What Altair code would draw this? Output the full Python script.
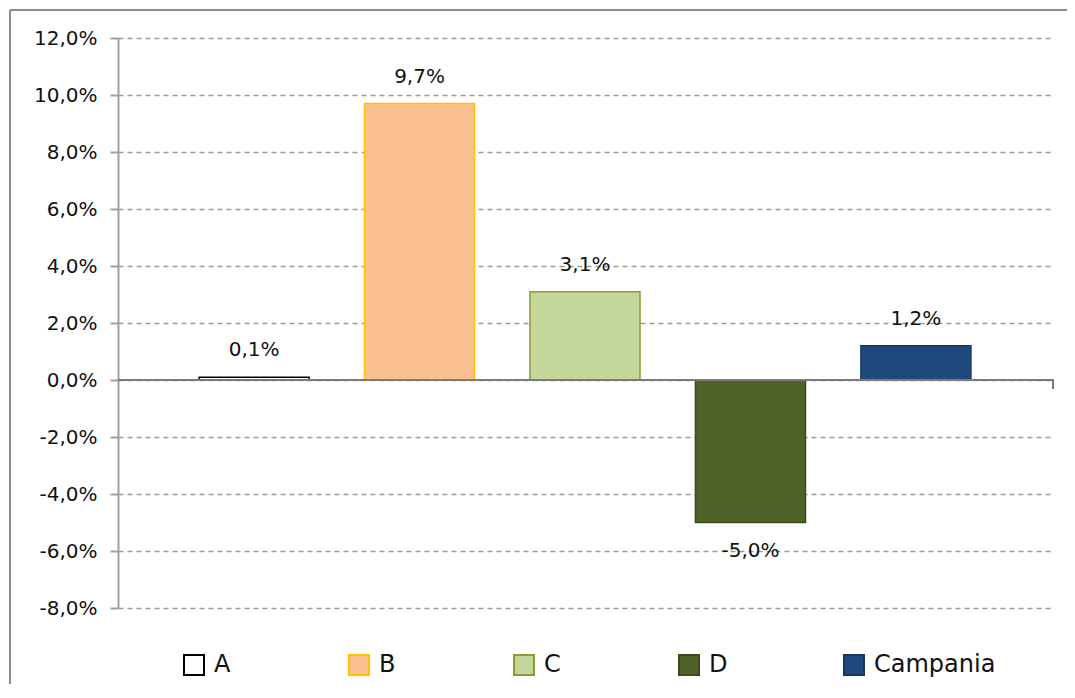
import altair as alt
import pandas as pd

categories = ["A", "B", "C", "D", "Campania"]
values = [0.1, 9.7, 3.1, -5.0, 1.2]
fills = ["#FFFFFF", "#FAC090", "#C4D79B", "#4F6228", "#1F497D"]
strokes = ["#000000", "#FFC000", "#8C9A2E", "#3A4A1A", "#17375E"]
y_ticks = [-8, -6, -4, -2, 0, 2, 4, 6, 8, 10, 12]

df = pd.DataFrame({"cat": categories, "v": values})

FONT = "DejaVu Sans"
W, H = 934, 570

fmt = "replace(replace(format(datum.value, '.1f'), '.', ','), '\u2212', '-') + '%'"
lblfmt = "replace(replace(format(datum.v, '.1f'), '.', ','), '\u2212', '-') + '%'"

x_enc = alt.X(
    "cat:N",
    sort=categories,
    scale=alt.Scale(domain=categories, paddingInner=0.335, paddingOuter=0.49),
    axis=None,
)
y_scale = alt.Scale(domain=[-8, 12], nice=False, zero=False)

legend_kw = dict(
    title=None,
    orient="none",
    legendX=64,
    legendY=615,
    direction="horizontal",
    columns=5,
    gridAlign="all",
    columnPadding=9,
    symbolType="square",
    symbolSize=400,
    symbolStrokeWidth=2,
    labelFont=FONT,
    labelFontSize=24,
    labelColor="#111111",
    labelOffset=8,
    padding=0,
    labelLimit=300,
)

base = alt.Chart(df)

bars = base.mark_bar(strokeWidth=1.5).encode(
    x=x_enc,
    y=alt.Y(
        "v:Q",
        scale=y_scale,
        axis=alt.Axis(
            values=y_ticks,
            title=None,
            labelExpr=fmt,
            labelFont=FONT,
            labelFontSize=20,
            labelColor="#111111",
            labelPadding=13,
            tickSize=8,
            tickColor="#A0A0A0",
            tickWidth=2,
            domainColor="#A0A0A0",
            domainWidth=2,
            grid=True,
            gridColor="#9A9A9A",
            gridDash=[5, 4],
            gridWidth=1.5,
        ),
    ),
    y2=alt.datum(0),
    fill=alt.Fill(
        "cat:N",
        scale=alt.Scale(domain=categories, range=fills),
        legend=alt.Legend(**legend_kw),
    ),
    stroke=alt.Stroke(
        "cat:N",
        scale=alt.Scale(domain=categories, range=strokes),
        legend=alt.Legend(**legend_kw),
    ),
)

labels = base.mark_text(
    font=FONT,
    fontSize=20,
    color="#111111",
    baseline="middle",
    dy=alt.expr("datum.v < 0 ? 28 : -27"),
).encode(
    x=x_enc,
    y=alt.Y("v:Q", scale=y_scale),
    text=alt.Text("lbl:N"),
).transform_calculate(lbl=lblfmt)

one = alt.Data(values=[{}])
zero_line = alt.Chart(one).mark_rule(color="#7A7A7A", strokeWidth=2).encode(
    x=alt.value(0), x2=alt.value(W + 2), y=alt.datum(0, scale=y_scale)
)
end_tick = alt.Chart(one).mark_rule(color="#7A7A7A", strokeWidth=2).encode(
    x=alt.value(W + 1), y=alt.value(342), y2=alt.value(351)
)
border_top = alt.Chart(one).mark_rule(color="#8C8C8C", strokeWidth=2).encode(
    x=alt.value(-108), x2=alt.value(2000), y=alt.value(-28)
)
border_left = alt.Chart(one).mark_rule(color="#8C8C8C", strokeWidth=2).encode(
    x=alt.value(-108), y=alt.value(-28), y2=alt.value(2000)
)

chart = (
    alt.layer(border_top, border_left, bars, zero_line, end_tick, labels)
    .properties(
        width=W,
        height=H,
        autosize=alt.AutoSizeParams(type="none"),
        padding={"left": 110, "top": 30, "right": 15, "bottom": 76},
        background="white",
    )
    .configure_view(stroke=None)
)

chart.save("out.html", embed_options={"renderer": "svg", "actions": False})
